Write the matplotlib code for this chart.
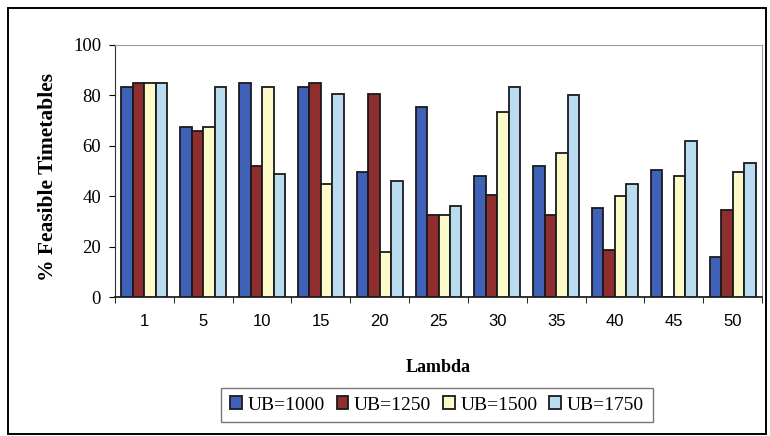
import numpy as np
import matplotlib
matplotlib.use("Agg")
import matplotlib.pyplot as plt
from matplotlib.patches import Rectangle

lambdas = ["1", "5", "10", "15", "20", "25", "30", "35", "40", "45", "50"]
ub1000 = [83.5, 67.5, 85, 83.5, 49.5, 75.5, 48, 52, 35.5, 50.5, 16]
ub1250 = [85, 66, 52, 85, 80.5, 32.5, 40.5, 32.5, 18.5, 0, 34.5]
ub1500 = [85, 67.5, 83.5, 45, 18, 32.5, 73.5, 57, 40, 48, 49.5]
ub1750 = [85, 83.5, 49, 80.5, 46, 36, 83.5, 80, 45, 62, 53]
series = [ub1000, ub1250, ub1500, ub1750]
labels = ["UB=1000", "UB=1250", "UB=1500", "UB=1750"]
colors = ["#3F62B8", "#8E2E2E", "#FBFAC8", "#B9DCF0"]

plt.rcParams['font.family'] = ['Liberation Serif', 'DejaVu Serif']

W, H = 770, 436
fig = plt.figure(figsize=(7.7, 4.36), dpi=100)
fig.patches.append(Rectangle((8/W, 1 - 434/H), (766-8)/W, (434-8)/H, transform=fig.transFigure,
                             fill=False, edgecolor='black', linewidth=1.4))
ax = fig.add_axes([115/W, 1 - 297/H, (762-115)/W, (297-45)/H])

x = np.arange(len(lambdas))
w = 0.195
for i, (vals, c, lab) in enumerate(zip(series, colors, labels)):
    ax.bar(x + (i - 1.5) * w, vals, width=w, color=c, edgecolor='#1a1a1a',
           linewidth=1.3, label=lab, zorder=3)

ax.set_xlim(-0.5, len(lambdas) - 0.5)
ax.set_ylim(0, 100)
ax.set_yticks([0, 20, 40, 60, 80, 100])
ax.set_xticks(x)
ax.set_xticklabels(lambdas, family=['Liberation Sans', 'DejaVu Sans'], fontsize=12)
ax.set_xticks(np.arange(-0.5, len(lambdas), 1), minor=True)
ax.tick_params(axis='x', which='major', length=0, pad=12)
ax.tick_params(axis='x', which='minor', length=4, direction='out')
ax.tick_params(axis='y', length=4, direction='out', labelsize=13.5, pad=6)
for s in ['top', 'right']:
    ax.spines[s].set_color('#9a9aa8')
ax.spines['left'].set_color('#333333')
ax.spines['bottom'].set_color('#222222')
ax.spines['bottom'].set_linewidth(1.3)

ax.set_ylabel("% Feasible Timetables", fontsize=15.5, fontweight='bold')
ax.yaxis.set_label_coords((58 - 115) / 647, (297 - 177) / 252)
ax.set_xlabel("Lambda", fontsize=13, fontweight='bold', labelpad=22)

leg = fig.legend(loc='center', bbox_to_anchor=(437/W, 1 - 405/H), ncol=4,
                 frameon=True, fancybox=False, edgecolor='#555555',
                 fontsize=14, handlelength=0.6, handleheight=0.6,
                 handletextpad=0.3, columnspacing=0.6, borderpad=0.45)
leg.get_frame().set_linewidth(1.0)

fig.savefig("out.png", dpi=100)
